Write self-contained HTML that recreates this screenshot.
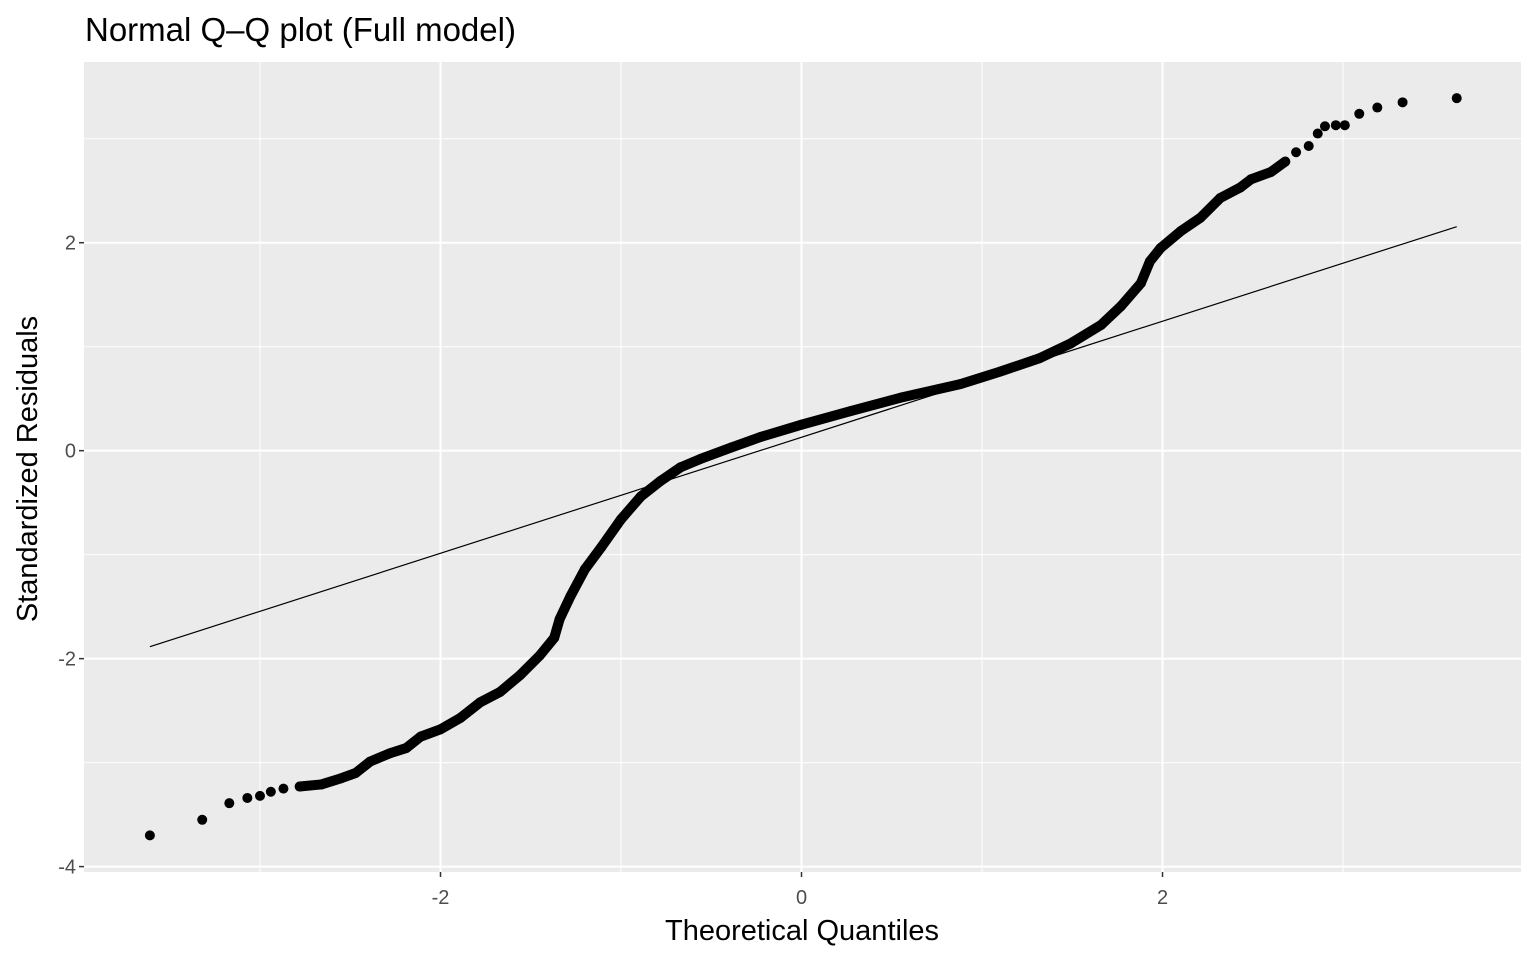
<!DOCTYPE html>
<html><head><meta charset="utf-8">
<style>
html,body{margin:0;padding:0;background:#fff;}
svg{display:block;font-family:"Liberation Sans",Arial,sans-serif;}
</style></head>
<body>
<svg id="chart" width="1536" height="960" viewBox="0 0 1536 960">
<text x="85" y="41" font-size="33" fill="#000">Normal Q–Q plot (Full model)</text>
<rect x="84" y="62" width="1437" height="810" fill="#ebebeb"/>
<g id="grid"></g>
<g id="marks"></g>
<g id="axes"></g>
<text x="802" y="940" font-size="29" text-anchor="middle" fill="#000">Theoretical Quantiles</text>
<text transform="translate(37,469) rotate(-90)" font-size="29" text-anchor="middle" fill="#000">Standardized Residuals</text>
</svg>
<script>
const theoretical = [-3.61,-3.32,-3.17,-3.07,-3.00,-2.94,-2.87,-2.78,-2.66,-2.55,-2.47,-2.39,-2.28,-2.19,-2.11,-2.00,-1.89,-1.78,-1.67,-1.56,-1.45,-1.37,-1.34,-1.28,-1.20,-1.11,-1.00,-0.89,-0.78,-0.67,-0.56,-0.39,-0.23,0,0.27,0.55,0.88,1.10,1.32,1.49,1.66,1.77,1.88,1.93,1.99,2.10,2.21,2.32,2.43,2.49,2.60,2.68,2.74,2.81,2.86,2.90,2.96,3.01,3.09,3.19,3.33,3.63];
const residuals = [-3.70,-3.55,-3.39,-3.34,-3.32,-3.28,-3.25,-3.23,-3.21,-3.15,-3.10,-2.99,-2.91,-2.86,-2.75,-2.68,-2.57,-2.42,-2.32,-2.16,-1.97,-1.80,-1.62,-1.40,-1.14,-0.93,-0.66,-0.44,-0.29,-0.16,-0.08,0.03,0.13,0.25,0.38,0.51,0.64,0.76,0.89,1.03,1.21,1.39,1.61,1.82,1.95,2.11,2.24,2.43,2.53,2.61,2.68,2.78,2.87,2.93,3.05,3.12,3.13,3.13,3.24,3.30,3.35,3.39];
const lineIntercept = 0.129;
const lineSlope = 0.558;
const xMajorTicks = [-2,0,2];
const xMinorTicks = [-3,-1,1,3];
const yMajorTicks = [-4,-2,0,2];
const yMinorTicks = [-3,-1,1,3];
const xTickLabels = ["-2","0","2"];
const yTickLabels = ["-4","-2","0","2"];

const NS="http://www.w3.org/2000/svg";
const X0=84,X1=1521,Y0=62,Y1=872;
const xMin=-3.975,xMax=3.986,yMin=-4.052,yMax=3.738;
const sx=v=>X0+(v-xMin)/(xMax-xMin)*(X1-X0);
const sy=v=>Y1-(v-yMin)/(yMax-yMin)*(Y1-Y0);
function mk(tag,attrs,parent){const e=document.createElementNS(NS,tag);for(const k in attrs)e.setAttribute(k,attrs[k]);parent.appendChild(e);return e;}
const grid=document.getElementById('grid'),marks=document.getElementById('marks'),axes=document.getElementById('axes');
xMinorTicks.forEach(v=>{const l=mk('line',{x1:sx(v),x2:sx(v),y1:Y0,y2:Y1,stroke:'#fff','stroke-width':1},grid);

});
yMinorTicks.forEach(v=>{const l=mk('line',{x1:X0,x2:X1,y1:sy(v),y2:sy(v),stroke:'#fff','stroke-width':1},grid);

});
xMajorTicks.forEach((v,i)=>{const l=mk('line',{x1:sx(v),x2:sx(v),y1:Y0,y2:Y1,stroke:'#fff','stroke-width':2},grid);


const t=mk('line',{x1:sx(v),x2:sx(v),y1:Y1,y2:Y1+5,stroke:'#333','stroke-width':1.5},axes);


const tx=mk('text',{x:sx(v),y:Y1+32,'font-size':20,'text-anchor':'middle',fill:'#4d4d4d'},axes);tx.textContent=xTickLabels[i];

});
yMajorTicks.forEach((v,i)=>{const l=mk('line',{x1:X0,x2:X1,y1:sy(v),y2:sy(v),stroke:'#fff','stroke-width':2},grid);


const t=mk('line',{x1:X0-5,x2:X0,y1:sy(v),y2:sy(v),stroke:'#333','stroke-width':1.5},axes);


const tx=mk('text',{x:X0-8,y:sy(v)+7,'font-size':20,'text-anchor':'end',fill:'#4d4d4d'},axes);tx.textContent=yTickLabels[i];

});
const xa=theoretical[0],xb=theoretical[theoretical.length-1];
const rl=mk('line',{x1:sx(xa),y1:sy(lineIntercept+lineSlope*xa),x2:sx(xb),y2:sy(lineIntercept+lineSlope*xb),stroke:'#000','stroke-width':1.2},marks);


const dense=[];theoretical.forEach((v,i)=>{if(v>=-2.85&&v<=2.72)dense.push(sx(v)+','+sy(residuals[i]));});
const pl=mk('polyline',{points:dense.join(' '),fill:'none',stroke:'#000','stroke-width':10,'stroke-linejoin':'round','stroke-linecap':'round'},marks);


theoretical.forEach((v,i)=>{const c=mk('circle',{cx:sx(v),cy:sy(residuals[i]),r:5,fill:'#000'},marks);

});
</script>
</body></html>
